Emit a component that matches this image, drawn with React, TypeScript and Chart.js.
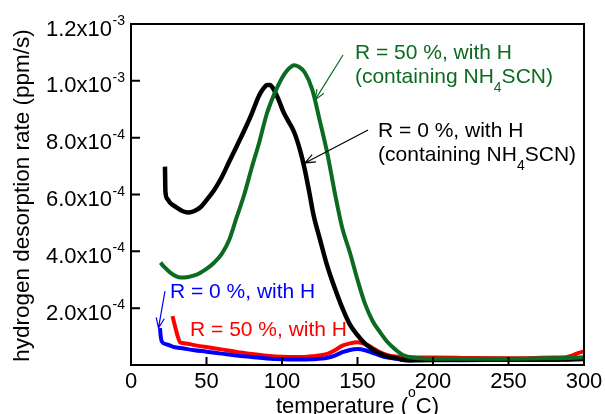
import React, { useEffect, useRef } from "react";
import { Chart, registerables } from "chart.js";

Chart.register(...registerables);

// ---------- data (temperature in °C, rate in ppm/s) ----------
const blackTemp = [22.5, 22.8, 24, 26, 30, 34, 38, 42, 46, 50, 55, 60, 65, 70, 75, 80, 85, 88, 90, 92, 95, 98, 101, 104, 108, 112, 115, 118, 121, 125, 130, 135, 140, 145, 150, 155, 160, 165, 170, 175, 180, 185, 190, 200, 220, 250, 280, 300];
const blackRate = [6.98e-4, 6.1e-4, 5.85e-4, 5.7e-4, 5.55e-4, 5.42e-4, 5.37e-4, 5.42e-4, 5.55e-4, 5.8e-4, 6.15e-4, 6.6e-4, 7.15e-4, 7.7e-4, 8.25e-4, 8.85e-4, 9.5e-4, 9.75e-4, 9.85e-4, 9.85e-4, 9.65e-4, 9.3e-4, 8.9e-4, 8.6e-4, 8.2e-4, 7.55e-4, 6.9e-4, 6.1e-4, 5.25e-4, 4.45e-4, 3.48e-4, 2.7e-4, 2.0e-4, 1.42e-4, 1.05e-4, 7.5e-5, 5.5e-5, 4.0e-5, 3.0e-5, 2.5e-5, 1.8e-5, 1.6e-5, 1.7e-5, 1.8e-5, 1.9e-5, 2.0e-5, 2.0e-5, 2.2e-5];

const greenTemp = [19.5, 22, 26, 30, 33, 38, 42, 46, 50, 55, 60, 65, 70, 75, 80, 85, 90, 95, 100, 104, 108, 111, 115, 120, 125, 130, 135, 140, 145, 150, 155, 160, 165, 170, 175, 180, 185, 190, 200, 220, 250, 280, 290, 300];
const greenRate = [3.6e-4, 3.45e-4, 3.25e-4, 3.12e-4, 3.08e-4, 3.1e-4, 3.15e-4, 3.25e-4, 3.38e-4, 3.6e-4, 3.9e-4, 4.4e-4, 5.2e-4, 6.0e-4, 6.95e-4, 7.85e-4, 8.85e-4, 9.55e-4, 1.01e-3, 1.04e-3, 1.055e-3, 1.05e-3, 1.03e-3, 9.7e-4, 8.6e-4, 7.45e-4, 6.05e-4, 4.8e-4, 3.95e-4, 3.0e-4, 2.15e-4, 1.55e-4, 1.15e-4, 8.0e-5, 5.5e-5, 3.5e-5, 2.7e-5, 2.4e-5, 2.2e-5, 2.2e-5, 2.2e-5, 2.4e-5, 2.5e-5, 2.7e-5];

const blueTemp = [19.2, 19.6, 20.5, 24, 28, 35, 42, 50, 60, 70, 80, 90, 100, 110, 120, 130, 135, 140, 145, 150, 155, 160, 165, 170, 175, 180, 200, 220, 250, 280, 300];
const blueRate = [1.3e-4, 1.05e-4, 8.2e-5, 7.2e-5, 6.4e-5, 5.8e-5, 5.2e-5, 4.7e-5, 4.0e-5, 3.3e-5, 2.8e-5, 2.3e-5, 2.0e-5, 1.9e-5, 2.0e-5, 2.5e-5, 3.3e-5, 4.5e-5, 5.3e-5, 5.6e-5, 5.2e-5, 4.3e-5, 3.3e-5, 2.6e-5, 2.2e-5, 2.0e-5, 1.8e-5, 1.7e-5, 1.8e-5, 1.8e-5, 2.0e-5];

const redTemp = [27.5, 29, 31, 32.5, 36, 42, 50, 60, 70, 80, 90, 100, 110, 120, 130, 135, 140, 145, 150, 155, 160, 165, 170, 175, 180, 200, 220, 250, 280, 288, 292, 296, 300];
const redRate = [1.72e-4, 1.4e-4, 1.0e-4, 8.0e-5, 7.6e-5, 7.0e-5, 6.3e-5, 5.5e-5, 4.6e-5, 3.9e-5, 3.3e-5, 2.9e-5, 2.8e-5, 3.1e-5, 3.9e-5, 5.2e-5, 6.8e-5, 7.6e-5, 8.0e-5, 7.4e-5, 6.0e-5, 4.5e-5, 3.5e-5, 3.0e-5, 2.8e-5, 2.6e-5, 2.5e-5, 2.4e-5, 2.6e-5, 2.7e-5, 3.3e-5, 4.2e-5, 4.8e-5];

const xTicks = [0, 50, 100, 150, 200, 250, 300];
const xTickLabels = ["0", "50", "100", "150", "200", "250", "300"];
const yTicks = [2e-4, 4e-4, 6e-4, 8e-4, 1.0e-3, 1.2e-3];
const yTickMantissa = ["2.0x10", "4.0x10", "6.0x10", "8.0x10", "1.0x10", "1.2x10"];
const yTickExponent = ["-4", "-4", "-4", "-4", "-3", "-3"];

const xTitle = ["temperature (", "o", "C)"];
const yTitle = "hydrogen desorption rate (ppm/s)";

const GREEN = "#0b6b20";
const FONT = '"Liberation Sans", Arial, sans-serif';

type Part = { t: string; size: number; dy: number };

function partsWidth(ctx: CanvasRenderingContext2D, parts: Part[]) {
  let w = 0;
  for (const p of parts) {
    ctx.font = `${p.size}px ${FONT}`;
    w += ctx.measureText(p.t).width;
  }
  return w;
}

function drawParts(ctx: CanvasRenderingContext2D, parts: Part[], x: number, y: number, align: "left" | "center" | "right") {
  const w = partsWidth(ctx, parts);
  let cx = align === "left" ? x : align === "center" ? x - w / 2 : x - w;
  ctx.textAlign = "left";
  ctx.textBaseline = "alphabetic";
  for (const p of parts) {
    ctx.font = `${p.size}px ${FONT}`;
    ctx.fillText(p.t, cx, y + p.dy);
    cx += ctx.measureText(p.t).width;
  }
}

function arrow(ctx: CanvasRenderingContext2D, x1: number, y1: number, x2: number, y2: number, color: string) {
  ctx.save();
  ctx.strokeStyle = color;
  ctx.lineWidth = 1.2;
  ctx.beginPath();
  ctx.moveTo(x1, y1);
  ctx.lineTo(x2, y2);
  const a = Math.atan2(y2 - y1, x2 - x1);
  const L = 11;
  const s = 0.38;
  ctx.moveTo(x2 - L * Math.cos(a - s), y2 - L * Math.sin(a - s));
  ctx.lineTo(x2, y2);
  ctx.lineTo(x2 - L * Math.cos(a + s), y2 - L * Math.sin(a + s));
  ctx.stroke();
  ctx.restore();
}

const decorPlugin = {
  id: "decor",
  afterDatasetsDraw(chart: any) {
    const ctx: CanvasRenderingContext2D = chart.ctx;
    const { left, right, top, bottom } = chart.chartArea;
    const xs = chart.scales.x;
    const ys = chart.scales.y;
    ctx.save();
    // frame
    ctx.strokeStyle = "#000";
    ctx.lineWidth = 2;
    ctx.strokeRect(left, top, right - left, bottom - top);
    // inward ticks
    ctx.beginPath();
    xTicks.forEach((v) => {
      const px = xs.getPixelForValue(v);
      ctx.moveTo(px, bottom);
      ctx.lineTo(px, bottom - 8);
    });
    yTicks.forEach((v) => {
      const py = ys.getPixelForValue(v);
      ctx.moveTo(left, py);
      ctx.lineTo(left + 9, py);
    });
    ctx.stroke();

    ctx.fillStyle = "#000";
    // x tick labels
    ctx.font = `22px ${FONT}`;
    ctx.textAlign = "center";
    ctx.textBaseline = "alphabetic";
    xTicks.forEach((v, i) => {
      ctx.fillText(xTickLabels[i], xs.getPixelForValue(v), bottom + 23);
    });
    // y tick labels with superscript exponent
    yTicks.forEach((v, i) => {
      const py = ys.getPixelForValue(v);
      ctx.font = `14px ${FONT}`;
      const ew = ctx.measureText(yTickExponent[i]).width;
      const rx = left - 6;
      ctx.textAlign = "right";
      ctx.fillText(yTickExponent[i], rx, py + 1);
      ctx.font = `22px ${FONT}`;
      ctx.fillText(yTickMantissa[i], rx - ew - 0.5, py + 11.5);
    });
    // x title
    drawParts(
      ctx,
      [
        { t: xTitle[0], size: 22, dy: 0 },
        { t: xTitle[1], size: 14, dy: -16 },
        { t: xTitle[2], size: 22, dy: 0 },
      ],
      (left + right) / 2,
      bottom + 48,
      "center"
    );
    // y title
    ctx.save();
    ctx.translate(29, (top + bottom) / 2 + 1);
    ctx.rotate(-Math.PI / 2);
    ctx.font = `22.5px ${FONT}`;
    ctx.textAlign = "center";
    ctx.fillText(yTitle, 0, 0);
    ctx.restore();

    // annotations (anchored in data coordinates)
    const P = (x: number, y: number) => [xs.getPixelForValue(x), ys.getPixelForValue(y)];
    // green
    ctx.fillStyle = GREEN;
    let [gx, gy] = P(148.3, 1.076e-3);
    drawParts(ctx, [{ t: "R = 50 %, with H", size: 21, dy: 0 }], gx, gy, "left");
    drawParts(
      ctx,
      [
        { t: "(containing NH", size: 21, dy: 0 },
        { t: "4", size: 14, dy: 9 },
        { t: "SCN)", size: 21, dy: 0 },
      ],
      gx,
      gy + 24,
      "left"
    );
    let [a1, b1] = P(140.4, 1.091e-3);
    let [a2, b2] = P(121.9, 9.33e-4);
    arrow(ctx, a1, b1, a2, b2, GREEN);
    // black
    ctx.fillStyle = "#000";
    let [kx, ky] = P(163.6, 8.01e-4);
    drawParts(ctx, [{ t: "R = 0 %, with H", size: 21, dy: 0 }], kx, ky, "left");
    drawParts(
      ctx,
      [
        { t: "(containing NH", size: 21, dy: 0 },
        { t: "4", size: 14, dy: 9 },
        { t: "SCN)", size: 21, dy: 0 },
      ],
      kx,
      ky + 24,
      "left"
    );
    [a1, b1] = P(157, 8.27e-4);
    [a2, b2] = P(115.2, 7.11e-4);
    arrow(ctx, a1, b1, a2, b2, "#000");
    // blue
    ctx.fillStyle = "#0000ff";
    let [bx, by] = P(25.8, 2.36e-4);
    drawParts(ctx, [{ t: "R = 0 %, with H", size: 21, dy: 0 }], bx, by, "left");
    [a1, b1] = P(22.5, 2.6e-4);
    [a2, b2] = P(18.2, 1.3e-4);
    arrow(ctx, a1, b1, a2, b2, "#0000ff");
    // red
    ctx.fillStyle = "#ff0000";
    let [rx, ry] = P(39.1, 1.02e-4);
    drawParts(ctx, [{ t: "R = 50 %, with H", size: 21, dy: 0 }], rx, ry, "left");
    ctx.restore();
  },
};

function pts(xs: number[], ys: number[]) {
  return xs.map((x, i) => ({ x, y: ys[i] }));
}

export default function App() {
  const ref = useRef<HTMLCanvasElement | null>(null);
  useEffect(() => {
    if (!ref.current) return;
    const line = (data: any, color: string, width: number, order: number) => ({
      data,
      borderColor: color,
      backgroundColor: color,
      borderWidth: width,
      pointRadius: 0,
      cubicInterpolationMode: "monotone" as const,
      fill: false,
      order,
    });
    const chart = new Chart(ref.current, {
      type: "line",
      data: {
        datasets: [
          line(pts(greenTemp, greenRate), GREEN, 4, 0),
          line(pts(blackTemp, blackRate), "#000000", 4.5, 1),
          line(pts(blueTemp, blueRate), "#0000ff", 4, 2),
          line(pts(redTemp, redRate), "#ff0000", 4, 3),
        ],
      },
      options: {
        animation: false,
        responsive: false,
        devicePixelRatio: 1,
        layout: { padding: { left: 131, right: 21, top: 24, bottom: 49 } },
        plugins: { legend: { display: false }, tooltip: { enabled: false } },
        scales: {
          x: {
            type: "linear",
            min: 0,
            max: 300,
            grid: { display: false, drawTicks: false },
            border: { display: false },
            ticks: { display: false },
            afterFit: (s: any) => {
              s.height = 0;
            },
          },
          y: {
            type: "linear",
            min: 0,
            max: 1.2e-3,
            grid: { display: false, drawTicks: false },
            border: { display: false },
            ticks: { display: false },
            afterFit: (s: any) => {
              s.width = 0;
            },
          },
        },
      },
      plugins: [decorPlugin],
    });
    return () => chart.destroy();
  }, []);
  return (
    <div style={{ position: "fixed", left: 0, top: 0, width: 605, height: 414, background: "#fff" }}>
      <canvas ref={ref} width={605} height={414} style={{ display: "block" }} />
    </div>
  );
}
